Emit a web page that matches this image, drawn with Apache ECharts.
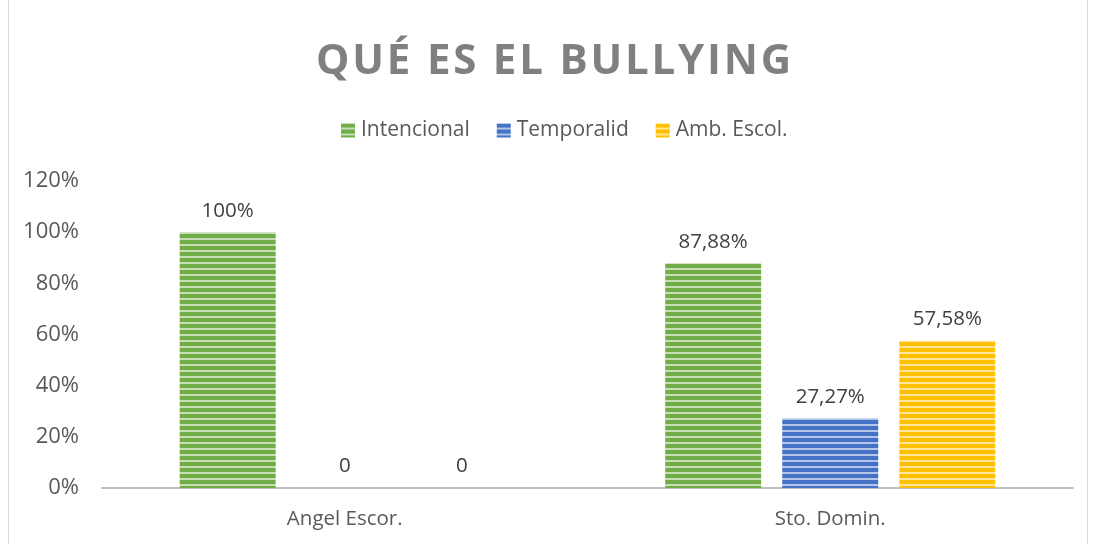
<!DOCTYPE html>
<html>
<head>
<meta charset="utf-8">
<script src="https://cdn.jsdelivr.net/npm/echarts@6/dist/echarts.min.js"></script>
<style>
  html, body { margin: 0; padding: 0; background: #fff; }
  #wrap { position: relative; width: 1094px; height: 544px; overflow: hidden; }
  #frame { position: absolute; left: 8px; top: -2px; width: 1080px; height: 560px; border: 1px solid #d9d9d9; box-sizing: border-box; }
  #title { position: absolute; left: 0; top: 28px; width: 1110px; text-align: center;
           font-family: 'Open Sans', sans-serif; font-weight: bold; font-size: 42px;
           letter-spacing: 2.8px; color: #808080; line-height: 60px; }
  #chart-main { position: absolute; left: 0; top: 0; width: 1094px; height: 544px; }
</style>
</head>
<body>
<div id="wrap">
  <div id="frame"></div>
  <div id="chart-main"></div>
  <div id="title">QUÉ ES EL BULLYING</div>
</div>
<script>
// Categories and series values (percent)
const categories = ['Angel Escor.', 'Sto. Domin.'];
const seriesNames = ['Intencional', 'Temporalid', 'Amb. Escol.'];
const intencional = [100, 87.88];
const temporalid = [0, 27.27];
const ambEscol = [0, 57.58];
const yTicks = [0, 20, 40, 60, 80, 100, 120];

const colors = {
    green: '#70ad47',
    blue: '#4472c4',
    yellow: '#ffc000',
    text: '#595959',
    label: '#404040',
    axis: '#bfbfbf'
};

// Striped fill like the original (horizontal light lines)
function stripes(base) {
    const c = document.createElement('canvas');
    c.width = 4;
    c.height = 6;
    const ctx = c.getContext('2d');
    ctx.fillStyle = base;
    ctx.fillRect(0, 0, 4, 6);
    ctx.fillStyle = 'rgba(255,255,255,0.6)';
    ctx.fillRect(0, 4, 4, 2);
    return { image: c, repeat: 'repeat' };
}

function fmt(v) {
    if (v === 0) return '0';
    return String(v).replace('.', ',') + '%';
}

const chart = echarts.init(document.getElementById('chart-main'));

function makeSeries(name, data, base) {
    return {
        name: name,
        type: 'bar',
        data: data,
        barGap: '22%',
        barCategoryGap: '32%',
        itemStyle: { color: stripes(base) },
        label: {
            show: true,
            position: 'top',
            distance: 11,
            fontFamily: 'Open Sans',
            fontSize: 20.5,
            color: colors.label,
            formatter: p => fmt(p.value)
        }
    };
}

const option = {
    animation: false,
    textStyle: { fontFamily: 'Open Sans' },
    legend: {
        top: 115,
        left: 336,
        itemWidth: 14,
        itemHeight: 14,
        itemGap: 27,
        textStyle: { fontSize: 21, color: colors.text, padding: [0, 0, 0, 1] },
        data: seriesNames.map(n => ({ name: n, icon: 'rect' }))
    },
    grid: { left: 102, right: 21, top: 181, bottom: 56, containLabel: false },
    xAxis: {
        type: 'category',
        data: categories,
        axisLine: { lineStyle: { color: colors.axis, width: 2 } },
        axisTick: { show: false },
        axisLabel: { fontSize: 20.5, color: colors.text, margin: 21 }
    },
    yAxis: {
        type: 'value',
        min: yTicks[0],
        max: yTicks[yTicks.length - 1],
        interval: 20,
        splitLine: { show: false },
        axisLine: { show: false },
        axisTick: { show: false },
        axisLabel: { fontSize: 22, color: colors.text, margin: 23, formatter: '{value}%' }
    },
    series: [
        makeSeries(seriesNames[0], intencional, colors.green),
        makeSeries(seriesNames[1], temporalid, colors.blue),
        makeSeries(seriesNames[2], ambEscol, colors.yellow)
    ]
};
chart.setOption(option);
</script>
</body>
</html>
